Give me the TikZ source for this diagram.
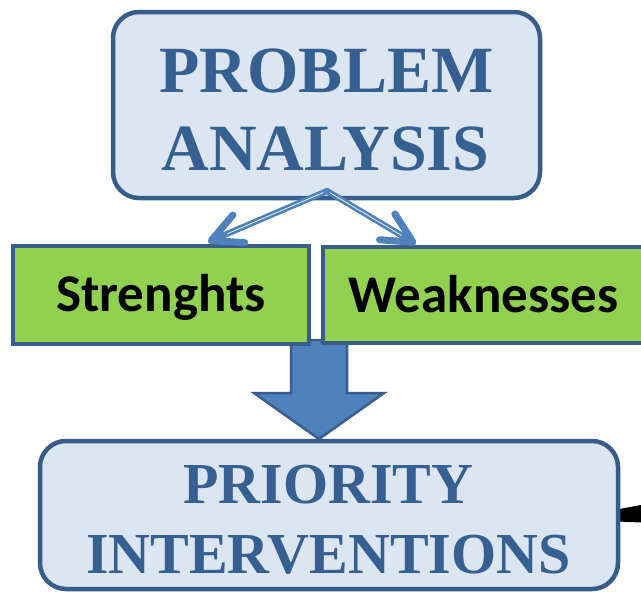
\documentclass[tikz,border=0pt]{standalone}
\usepackage{fontspec}
\setmainfont{Liberation Serif}
\newfontfamily\calfont{Carlito}
\usetikzlibrary{arrows.meta,calc}

\definecolor{boxfill}{HTML}{DCE6F2}
\definecolor{boxline}{HTML}{385D8A}
\definecolor{titleblue}{HTML}{376092}
\definecolor{leafgreen}{HTML}{92D050}
\definecolor{accentblue}{HTML}{4F81BD}

\begin{document}
\begin{tikzpicture}[x=1pt,y=-1pt,
  bluebox/.style={draw=boxline, fill=boxfill, line width=4.5pt,
    rounded corners=26pt, inner sep=0pt},
  greenbox/.style={draw=boxline, fill=leafgreen, line width=4pt, inner sep=0pt},
  bigtitle/.style={text=titleblue, inner sep=0pt, anchor=base,
    font=\fontsize{66}{66}\selectfont\bfseries},
  midtitle/.style={text=titleblue, inner sep=0pt, anchor=base,
    font=\fontsize{58}{58}\selectfont\bfseries},
  leaflabel/.style={text=black, inner sep=0pt, anchor=base,
    font=\fontsize{53}{53}\calfont\bfseries},
  splitline/.style={draw=accentblue, line width=6pt, line cap=round,
    -{Straight Barb[length=30pt, width=30pt, line width=7pt, round]}},
  splitgap/.style={draw=white, line width=0.7pt},
  blockarrow/.style={draw=boxline, fill=accentblue, line width=2.5pt, line join=miter}
]
\useasboundingbox (0,0) rectangle (641,592);
\clip (0,0) rectangle (641,592);

% incoming connector from the right
\coordinate (inR) at (641,513);
\fill[black] (606,511.5) -- (641,505) -- (641,522.5) -- (606,521) -- cycle;

% bottom box
\node[bluebox, minimum width=578pt, minimum height=148pt] (pi) at (329,515) {};
\node[midtitle] (pi1) at (328.5,503) {PRIORITY};
\node[midtitle] (pi2) at (328.5,573) {INTERVENTIONS};

% block arrow from the two lists down to the interventions
\coordinate (flowtop) at (319,340);
\coordinate (flowtip) at (319,439);
\draw[blockarrow] ($(flowtop)+(-28,0)$) -- ($(flowtop)+(-28,53)$) -- ($(flowtop)+(-65,53)$)
  -- (flowtip) -- ($(flowtop)+(65,53)$) -- ($(flowtop)+(28,53)$) -- ($(flowtop)+(28,0)$) -- cycle;

% strengths and weaknesses
\node[greenbox, minimum width=296pt, minimum height=98pt] (s) at (161,295) {};
\node[greenbox, minimum width=340pt, minimum height=96pt] (w) at (493,295) {};
\node[leaflabel] (st) at (161,311) {Strenghts};
\node[leaflabel] (wt) at (483.5,312) {Weaknesses};

% top box
\node[bluebox, minimum width=427pt, minimum height=186pt] (pa) at (326.5,105) {};
\node[bigtitle] (pa1) at (326.5,92) {PROBLEM};
\node[bigtitle] (pa2) at (325.5,170) {ANALYSIS};

% split arrows: thick blue stroke with a thin white seam near its upper edge
\coordinate (apex) at (327,191);
\coordinate (tipS) at (208,242);
\coordinate (tipW) at (416,244);
\draw[splitline] (apex) -- (tipS);
\draw[splitline] (apex) -- (tipW);
\draw[splitgap, shift={(-0.5,-1.1)}] ($(apex)!0.03!(tipS)$) -- ($(apex)!0.84!(tipS)$);
\draw[splitgap, shift={(0.6,-1.0)}] ($(apex)!0.03!(tipW)$) -- ($(apex)!0.84!(tipW)$);
\end{tikzpicture}
\end{document}
